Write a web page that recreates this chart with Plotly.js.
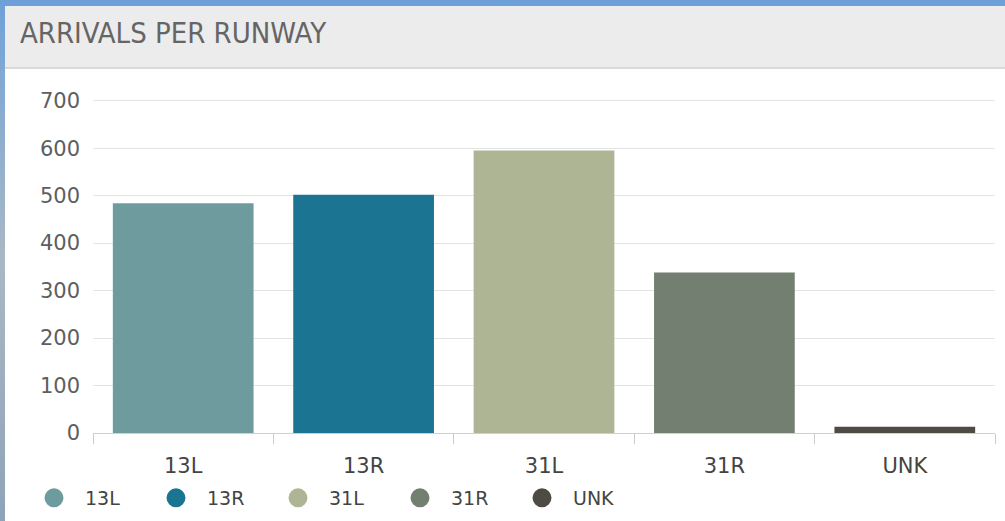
<!DOCTYPE html>
<html>
<head>
<meta charset="utf-8">
<script src="https://cdn.plot.ly/plotly-3.0.1.min.js"></script>
<style>
  html, body { margin: 0; padding: 0; width: 1005px; height: 521px; overflow: hidden; }
  body { background: linear-gradient(180deg, #6d9fd9 0px, #79a6d6 40px, #a9b8c4 260px, #8fa3b8 521px); position: relative; }
  #panel { position: absolute; left: 5px; top: 6px; width: 1000px; height: 515px; background: #ffffff; }
  #header { position: absolute; left: 0; top: 0; width: 1000px; height: 61px; background: #ececec; border-bottom: 2px solid #d9d9d9; }
  #title { position: absolute; left: 15px; top: 10px; font-family: "DejaVu Sans Condensed", "DejaVu Sans", sans-serif; font-stretch: condensed; font-size: 29px; color: #656565; letter-spacing: 0px; white-space: nowrap; }
  #chart { position: absolute; left: 0; top: 0; width: 1005px; height: 521px; }
</style>
</head>
<body>
<div id="panel"><div id="header"><div id="title">ARRIVALS PER RUNWAY</div></div></div>
<div id="chart"></div>
<script>
const runways = ["13L", "13R", "31L", "31R", "UNK"];
const arrivals = [484, 502, 595, 338, 13];
const colors = ["#6e9c9e", "#1a7492", "#adb594", "#737f70", "#4e4a44"];
const yTicks = [0, 100, 200, 300, 400, 500, 600, 700];

const traces = [{
  type: "bar",
  x: runways,
  y: arrivals,
  marker: { color: colors, line: { width: 0 } },
  showlegend: false,
  hoverinfo: "x+y"
}];
runways.forEach((r, i) => {
  traces.push({
    type: "scatter",
    mode: "markers",
    x: [null],
    y: [null],
    name: r,
    marker: { color: colors[i], size: 16, symbol: "circle", line: { color: colors[i], width: 3 } },
    showlegend: true
  });
});

const layout = {
  width: 1005,
  height: 521,
  margin: { l: 93, r: 10, t: 96, b: 88, pad: 0 },
  paper_bgcolor: "rgba(0,0,0,0)",
  plot_bgcolor: "rgba(0,0,0,0)",
  font: { family: "DejaVu Sans, sans-serif", color: "#555555", size: 20 },
  bargap: 0.22,
  xaxis: {
    type: "category",
    categoryarray: runways,
    showgrid: false,
    showline: true,
    linecolor: "#d0d0d0",
    linewidth: 1,
    ticks: "outside",
    tickson: "boundaries",
    ticklen: 10,
    tickcolor: "#cccccc",
    tickfont: { size: 21, color: "#444444", family: "DejaVu Sans, sans-serif" },
    ticklabelstandoff: 14,
    zeroline: false
  },
  yaxis: {
    range: [0, 710],
    tickvals: yTicks,
    ticktext: yTicks.map(String),
    showgrid: true,
    gridcolor: "#e3e3e3",
    gridwidth: 1,
    zeroline: false,
    showline: false,
    ticks: "",
    ticklabelstandoff: 12,
    tickfont: { size: 21, color: "#5e5e5e", family: "DejaVu Sans, sans-serif" }
  },
  legend: {
    orientation: "h",
    xref: "container",
    yref: "container",
    x: 23 / 1005,
    xanchor: "left",
    y: 1 - 498 / 521,
    yanchor: "middle",
    itemwidth: 52,
    entrywidth: 55,
    entrywidthmode: "pixels",
    font: { size: 19, color: "#444444", family: "DejaVu Sans, sans-serif" },
    bgcolor: "rgba(0,0,0,0)",
    borderwidth: 0,
    itemclick: false,
    itemdoubleclick: false
  },
  showlegend: true
};

Plotly.newPlot("chart", traces, layout, { displayModeBar: false, staticPlot: true });
</script>
</body>
</html>
